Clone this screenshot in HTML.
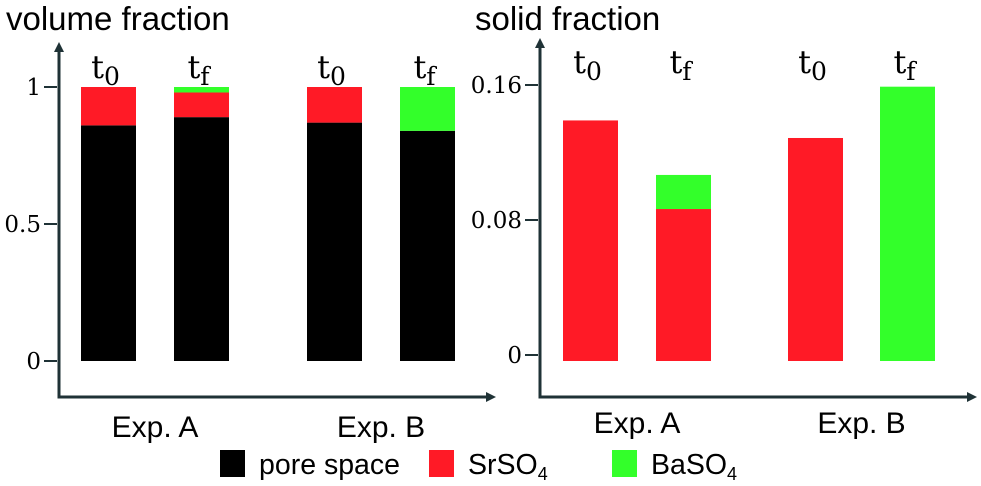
<!DOCTYPE html>
<html><head><meta charset="utf-8"><style>
body{margin:0;background:#fff;width:981px;height:486px;overflow:hidden}
svg{display:block;font-family:"Liberation Sans",sans-serif}
</style></head><body>
<svg id="c" width="981" height="486"></svg>
<script>
const groups=['Exp. A','Exp. B'];
const barLabels=['t0','tf','t0','tf'];
const poreSpace=[0.86,0.89,0.87,0.84];
const volSr=[0.14,0.09,0.13,0];
const volBa=[0,0.02,0,0.16];
const solidSr=[0.139,0.0865,0.1286,0];
const solidBa=[0,0.0202,0,0.159];
const leftTicks=[0,0.5,1];
const rightTicks=[0,0.08,0.16];
const colors={pore:'#000000',sr:'#ff1a26',ba:'#33ff2a',axis:'#1f3236'};
const svg=document.getElementById('c');
const NS='http://www.w3.org/2000/svg';
function mk(t,a,p){const e=document.createElementNS(NS,t);for(const k in a)e.setAttribute(k,a[k]);(p||svg).appendChild(e);return e;}
function yL(v){return 361-v*274;}
function yR(v){return 355-v/0.08*135;}
const leftX=[81,174,307,400], rightX=[563,656,788,880], bw=55;
let t=mk('text',{x:6,y:30,'font-size':33,fill:'#000'});t.textContent='volume fraction';

t=mk('text',{x:475,y:30,'font-size':33,fill:'#000'});t.textContent='solid fraction';

function axes(x0,xEnd,top,name){
  let a=mk('path',{d:`M${x0} ${top+8}V397H${xEnd-8}`,stroke:colors.axis,'stroke-width':3,fill:'none'});
  
  mk('path',{d:`M${x0-5} ${top+10}L${x0} ${top}L${x0+5} ${top+10}Z`,fill:colors.axis});
  mk('path',{d:`M${xEnd-10} 392L${xEnd} 397L${xEnd-10} 402Z`,fill:colors.axis});
}
axes(59,496,42,'left');
axes(540,977,38,'right');
function ticks(vals,yf,x,fmt,name){
  vals.forEach(v=>{
    const y=yf(v);
    const l=mk('line',{x1:x-13,x2:x,y1:y,y2:y,stroke:colors.axis,'stroke-width':2});
    
    const tx=mk('text',{x:x-16,y:y+8,'font-size':23,'text-anchor':'end',fill:'#000','font-family':'"DejaVu Serif",serif'});
    tx.textContent=fmt(v);
    
  });
}
ticks(leftTicks,yL,57,v=>String(v),'left-y');
ticks(rightTicks,yR,538,v=>String(v),'right-y');
function stack(xs,yf,base,series,name,lblY,grpY){
  xs.forEach((x,i)=>{
    let cur=base;
    series.forEach(s=>{
      const v=s.vals[i];if(v<=0)return;
      const y1=yf(cur===base?0:cur), yTop=yf((cur===base?0:cur)+v);
      const bottom=cur===base?yf(base):y1;
      const r=mk('rect',{x:x,y:yTop,width:bw,height:bottom-yTop,fill:s.c});
      
      cur=(cur===base?0:cur)+v;
    });
    const lbl=mk('text',{x:x+bw/2-3,y:lblY,'font-size':32,'text-anchor':'middle',fill:'#000','font-family':'"DejaVu Serif",serif'});
    lbl.innerHTML='t<tspan font-size="25" dy="7">'+barLabels[i].slice(1)+'</tspan>';
    
  });
  [0,1].forEach(g=>{
    const gx=(xs[g*2]+xs[g*2+1]+bw)/2;
    const tx=mk('text',{x:gx,y:grpY,'font-size':30,'text-anchor':'middle',fill:'#000'});
    tx.textContent=groups[g];
    
  });
}
stack(leftX,yL,0,[{vals:poreSpace,c:colors.pore,n:'pore'},{vals:volSr,c:colors.sr,n:'srso4'},{vals:volBa,c:colors.ba,n:'baso4'}],'left',78,437);
stack(rightX,v=>v<0?361:yR(v),-1,[{vals:solidSr,c:colors.sr,n:'srso4'},{vals:solidBa,c:colors.ba,n:'baso4'}],'right',73,433);
[[220,colors.pore,'pore space',''],[429,colors.sr,'SrSO','4'],[612,colors.ba,'BaSO','4']].forEach((d,i)=>{
  const r=mk('rect',{x:d[0],y:450,width:25,height:27,fill:d[1]});
  
  const tx=mk('text',{x:d[0]+39,y:474,'font-size':28.5,fill:'#000'});
  tx.innerHTML=d[2]+(d[3]?'<tspan font-size="18" dy="6">'+d[3]+'</tspan>':'');
  
});
</script>
</body></html>
